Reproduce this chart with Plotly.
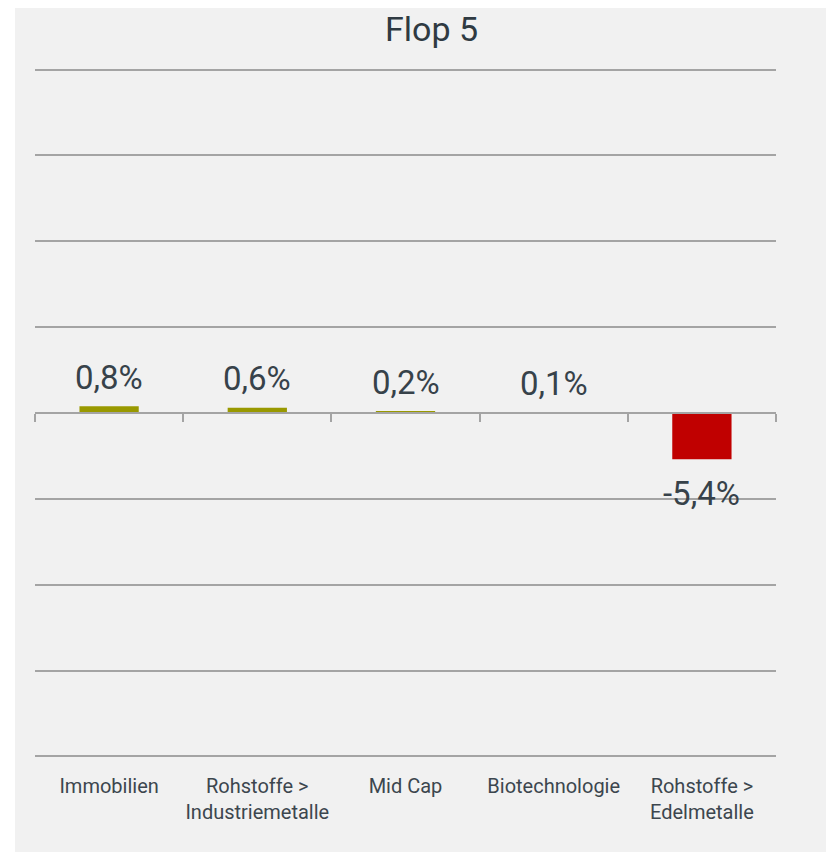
import plotly.graph_objects as go

categories = ["Immobilien", "Rohstoffe ><br>Industriemetalle", "Mid Cap", "Biotechnologie", "Rohstoffe ><br>Edelmetalle"]
values = [0.8, 0.6, 0.2, 0.1, -5.4]
labels = ["0,8%", "0,6%", "0,2%", "0,1%", "-5,4%"]
title_text = "Flop 5"

POS = "#999900"
NEG = "#c00000"
GRID = "#a4a4a4"
TXT = "#37424a"
BG = "#f1f1f1"
FONT = "Roboto"

# page has an 8px body margin, so the figure is 8px smaller
W, H = 826, 844
YMAX = 40
EXT = 0.3  # small range extension so the +/-40 gridlines are not clipped
px_per_unit = 686 / (2 * YMAX)
ML, MR = 27, 58
MT = 62 - EXT * px_per_unit
MB = 96 - EXT * px_per_unit
pw, ph = W - ML - MR, H - MT - MB

colors = [POS if v >= 0 else NEG for v in values]

fig = go.Figure()
fig.add_trace(go.Bar(x=categories, y=values, marker=dict(color=colors, line=dict(width=0)),
                     hoverinfo="skip", showlegend=False))
fig.add_trace(go.Scatter(x=categories, y=values, xaxis="x2", yaxis="y", mode="markers",
                         marker=dict(opacity=0), hoverinfo="skip", showlegend=False))

for c, v, t in zip(categories, values, labels):
    fig.add_annotation(x=c, y=v, text=t, showarrow=False, xref="x", yref="y",
                       yanchor="middle", yshift=29 if v >= 0 else -34,
                       font=dict(family=FONT, size=33, color=TXT))

# title as an annotation whose box starts at the top of the figure
fig.add_annotation(x=(423 - ML) / pw, y=(H - MB) / ph, xref="paper", yref="paper",
                   xanchor="center", yanchor="top", showarrow=False, text=title_text,
                   font=dict(family=FONT, size=34, color="#2f3a42"))

# grey panel
fig.add_shape(type="rect", xref="paper", yref="paper", layer="below",
              x0=(7 - ML) / pw, x1=(W - ML) / pw,
              y0=(H - MB - H) / ph, y1=(H - MB) / ph,
              fillcolor=BG, line=dict(width=0))

fig.update_layout(
    width=W, height=H,
    margin=dict(l=ML, r=MR, t=MT, b=MB, pad=0),
    paper_bgcolor="white", plot_bgcolor="rgba(0,0,0,0)",
    bargap=0.6,
    xaxis=dict(type="category", categoryorder="array", categoryarray=categories,
               range=[-0.5, 4.5], showgrid=False, showline=False, ticks="",
               tickfont=dict(family=FONT, size=20, color="#3c464e"),
               ticklabelstandoff=13),
    xaxis2=dict(type="category", categoryorder="array", categoryarray=categories,
                overlaying="x", anchor="free", position=0.5, side="bottom",
                range=[-0.5, 4.5], showgrid=False, showticklabels=False,
                showline=True, linecolor=GRID, linewidth=2,
                ticks="outside", tickson="boundaries", ticklen=8, tickwidth=2, tickcolor=GRID),
    yaxis=dict(range=[-YMAX - EXT, YMAX + EXT], dtick=10, tick0=0, showgrid=True,
               gridcolor=GRID, gridwidth=2,
               zeroline=False, showticklabels=False, ticks="", showline=False),
)

fig.write_html("out.html")
